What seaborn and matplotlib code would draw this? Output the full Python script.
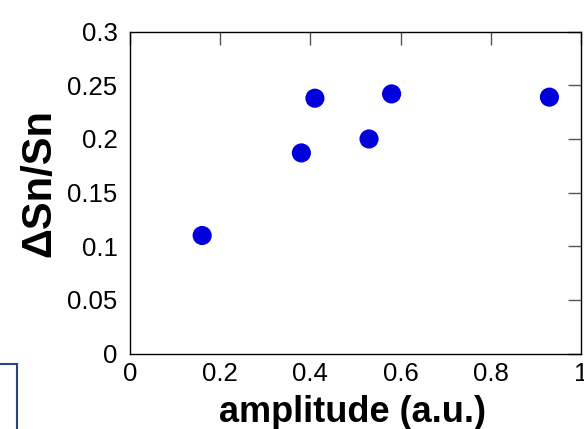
import pandas as pd
import matplotlib.pyplot as plt
import seaborn as sns
from matplotlib.patches import Rectangle

# datos
amplitude = [0.16, 0.38, 0.41, 0.53, 0.58, 0.93]
dsn_sn = [0.110, 0.187, 0.238, 0.200, 0.242, 0.239]
x_ticks = [0, 0.2, 0.4, 0.6, 0.8, 1]
x_labels = ["0", "0.2", "0.4", "0.6", "0.8", "1"]
y_ticks = [0, 0.05, 0.1, 0.15, 0.2, 0.25, 0.3]
y_labels = ["0", "0.05", "0.1", "0.15", "0.2", "0.25", "0.3"]

df = pd.DataFrame({"amplitude": amplitude, "dSn": dsn_sn})

sns.set_style("white")
plt.rcParams["font.family"] = ["Liberation Sans", "DejaVu Sans"]
plt.rcParams["text.color"] = "black"
plt.rcParams["axes.labelcolor"] = "black"

fig = plt.figure(figsize=(5.84, 4.29), dpi=100)
ax = fig.add_axes([130 / 584, 1 - 353.5 / 429, 451 / 584, 321.8 / 429])

sns.scatterplot(data=df, x="amplitude", y="dSn", ax=ax, s=190,
                color="#0000DD", edgecolor="none", linewidth=0, legend=False)

ax.set_xlim(0, 1)
ax.set_ylim(0, 0.3)
ax.set_xticks(x_ticks)
ax.set_xticklabels(x_labels)
ax.set_yticks(y_ticks)
ax.set_yticklabels(y_labels)
ax.tick_params(direction="in", length=9.5, width=1, color="#555555",
               labelsize=18.5, top=True, right=True, labelcolor="black")
ax.tick_params(axis="x", pad=6)
ax.tick_params(axis="y", pad=9)
for sp in ax.spines.values():
    sp.set_color("black")
    sp.set_linewidth(1.0)

ax.set_xlabel("amplitude (a.u.)", fontsize=26, fontweight="bold", color="black")
ax.set_ylabel("\u0394Sn/Sn", fontsize=30, fontweight="bold", color="black")
ax.xaxis.set_label_coords(0.494, -0.13)
ax.yaxis.set_label_coords(-0.157, 0.531)

# recuadro azul cortado abajo a la izquierda
fig.patches.append(Rectangle((-10 / 584, -20 / 429), 26.5 / 584, (429 - 364 + 20) / 429,
                             transform=fig.transFigure, fill=False,
                             edgecolor="#2A4480", linewidth=1.5))

fig.savefig("out.png", dpi=100)
